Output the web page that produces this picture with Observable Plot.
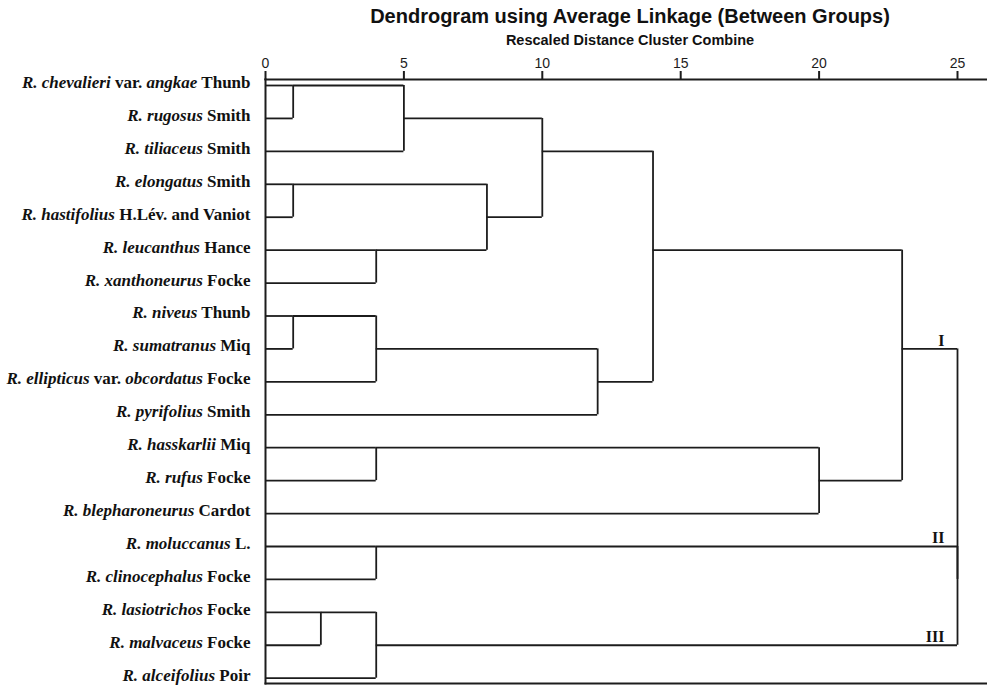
<!DOCTYPE html>
<html>
<head>
<meta charset="utf-8">
<script src="https://cdn.jsdelivr.net/npm/d3@7"></script>
<script src="https://cdn.jsdelivr.net/npm/@observablehq/plot@0.6"></script>
<style>
  body { margin: 0; background: #fff; }
  #wrap { position: relative; width: 987px; height: 686px; overflow: hidden; }
  .title, .subtitle {
    position: absolute; left: 230px; width: 800px; text-align: center;
    font-family: "Liberation Sans", Arial, sans-serif; font-weight: bold; color: #111;
    white-space: nowrap;
  }
  .title { top: 6.4px; font-size: 20px; line-height: 20px; }
  .subtitle { top: 33.4px; font-size: 14.5px; line-height: 14.5px; }
  #chart { position: absolute; left: 0; top: 0; }
</style>
</head>
<body>
<div id="wrap">
  <div id="chart"></div>
  <div class="title">Dendrogram using Average Linkage (Between Groups)</div>
  <div class="subtitle">Rescaled Distance Cluster Combine</div>
</div>
<script>
// Leaf labels, top to bottom; text between underscores is set in italics.
const leaves = [
  "_R. chevalieri_ var. _angkae_ Thunb",
  "_R. rugosus_ Smith",
  "_R. tiliaceus_ Smith",
  "_R. elongatus_ Smith",
  "_R. hastifolius_ H.Lév. and Vaniot",
  "_R. leucanthus_ Hance",
  "_R. xanthoneurus_ Focke",
  "_R. niveus_ Thunb",
  "_R. sumatranus_ Miq",
  "_R. ellipticus_ var. _obcordatus_ Focke",
  "_R. pyrifolius_ Smith",
  "_R. hasskarlii_ Miq",
  "_R. rufus_ Focke",
  "_R. blepharoneurus_ Cardot",
  "_R. moluccanus_ L.",
  "_R. clinocephalus_ Focke",
  "_R. lasiotrichos_ Focke",
  "_R. malvaceus_ Focke",
  "_R. alceifolius_ Poir"
];

// Agglomeration schedule: [node A, node B, rescaled distance].
// Nodes 0..18 are leaves; each merge creates node 19, 20, ...
const merges = [
  [0, 1, 1],    // 19
  [3, 4, 1],    // 20
  [7, 8, 1],    // 21
  [16, 17, 2],  // 22
  [5, 6, 4],    // 23
  [21, 9, 4],   // 24
  [11, 12, 4],  // 25
  [14, 15, 4],  // 26
  [22, 18, 4],  // 27
  [19, 2, 5],   // 28
  [20, 23, 8],  // 29
  [28, 29, 10], // 30
  [24, 10, 12], // 31
  [30, 31, 14], // 32
  [25, 13, 20], // 33
  [32, 33, 23], // 34
  [26, 27, 25], // 35
  [34, 35, 25]  // 36
];

// Cluster group names and the nodes they mark
const groupNames = ["I", "II", "III"];
const groupNodes = [34, 26, 27];

const axisTicks = [0, 5, 10, 15, 20, 25];

// Lay out the tree: each node sits on a leaf row; a merged node takes
// the row at the (floored) midpoint of its two children.
const row = leaves.map((_, i) => i);
const dist = leaves.map(() => 0);
const hSegs = [];
const vSegs = [];
for (const [a, b, h] of merges) {
  for (const c of [a, b]) {
    if (h > dist[c]) hSegs.push({x1: dist[c], x2: h, y: row[c]});
  }
  vSegs.push({x: h, y1: Math.min(row[a], row[b]), y2: Math.max(row[a], row[b])});
  row.push(Math.floor((row[a] + row[b]) / 2));
  dist.push(h);
}
const rootDist = dist[dist.length - 1];
const groups = groupNames.map((name, i) => ({name, y: row[groupNodes[i]], x: rootDist}));

const ink = "#1c1c1c";
const serif = "'Liberation Serif', 'Times New Roman', serif";

const chart = Plot.plot({
  width: 987,
  height: 686,
  marginLeft: 265,
  marginRight: 0,
  insetRight: 30,
  marginTop: 79,
  insetTop: 6,
  marginBottom: 3,
  insetBottom: 5.3,
  x: {domain: [0, 25]},
  y: {domain: [0, leaves.length - 1], reverse: true, axis: null},
  style: {fontFamily: "'Liberation Sans', Arial, sans-serif", fontSize: "14px", color: ink, background: "#fff"},
  marks: [
    Plot.frame({anchor: "top", stroke: ink, strokeWidth: 2}),
    Plot.frame({anchor: "bottom", stroke: ink, strokeWidth: 2}),
    Plot.frame({anchor: "left", stroke: ink, strokeWidth: 2}),
    Plot.axisX({anchor: "top", ticks: axisTicks, tickSize: 9, tickPadding: 3, strokeWidth: 2, stroke: ink, label: null}),
    Plot.ruleY(hSegs, {x1: "x1", x2: "x2", y: "y", stroke: ink, strokeWidth: 1.8}),
    Plot.ruleX(vSegs, {x: "x", y1: "y1", y2: "y2", stroke: ink, strokeWidth: 1.8}),
    Plot.text(leaves, {
      frameAnchor: "left",
      y: (d, i) => i,
      text: d => d,
      textAnchor: "end",
      dx: -15,
      dy: -3,
      fontFamily: serif,
      fontWeight: "bold",
      fontSize: 17,
      fill: "#111"
    }),
    Plot.text(groups, {
      x: "x",
      y: "y",
      text: "name",
      textAnchor: "end",
      lineAnchor: "bottom",
      dx: -13,
      dy: -3,
      fontFamily: serif,
      fontWeight: "bold",
      fontSize: 16,
      fill: "#111"
    })
  ]
});

// Split each leaf label into italic (species) and upright (authority) runs.
chart.querySelectorAll("text").forEach(t => {
  const raw = t.textContent;
  if (!raw.includes("_")) return;
  while (t.firstChild) t.removeChild(t.firstChild);
  raw.split("_").forEach((part, i) => {
    if (!part) return;
    const span = document.createElementNS("http://www.w3.org/2000/svg", "tspan");
    if (i % 2 === 1) span.setAttribute("font-style", "italic");
    span.textContent = part;
    t.appendChild(span);
  });
});

document.getElementById("chart").appendChild(chart);
</script>
</body>
</html>
